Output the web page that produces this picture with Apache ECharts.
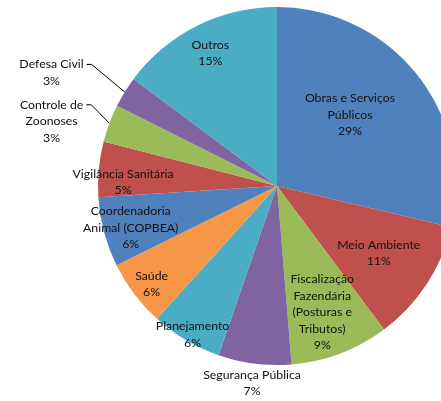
<!DOCTYPE html>
<html>
<head>
<meta charset="utf-8">
<script src="https://cdn.jsdelivr.net/npm/echarts@6/dist/echarts.min.js"></script>
<style>
html, body { margin: 0; padding: 0; background: #fff; }
#ch-main { width: 441px; height: 401px; }
</style>
</head>
<body>
<div id="ch-main"></div>
<script>
// slices, clockwise from 12 o'clock
var categories = [
    'Obras e Serviços\nPúblicos',
    'Meio Ambiente',
    'Fiscalização\nFazendária\n(Posturas e\nTributos)',
    'Segurança Pública',
    'Planejamento',
    'Saúde',
    'Coordenadoria\nAnimal (COPBEA)',
    'Vigilância Sanitária',
    'Controle de\nZoonoses',
    'Defesa Civil',
    'Outros'
];
var values = [28.7, 11.1, 8.9, 6.6, 6.4, 6.0, 6.3, 5.0, 3.4, 2.8, 14.8];
var colors = ['#4F81BD', '#C0504D', '#9BBB59', '#8064A2', '#4BACC6', '#F79646',
    '#4F81BD', '#C0504D', '#9BBB59', '#8064A2', '#4BACC6'];

// where each label sits: [fraction of radius, angle nudge in degrees]
var labelPlace = [[0.57, -6], [0.68, 0], [0.75, 1], [1.11, 0], [0.955, -1], [0.89, -1],
    [0.85, -1], [0.86, -4], [1.31, -4.5], [1.41, -5], [0.83, 0]];
var leader = [false, false, false, false, false, false, false, false, true, true, false];

var cx = 277, cy = 186, R = 179, lineH = 16.5;

var starts = [], total = 0;
values.forEach(function (v) { starts.push(total); total += v; });

function polar(k, deg) {
    var a = deg * Math.PI / 180;
    return [cx + k * R * Math.sin(a), cy - k * R * Math.cos(a)];
}

var myChart = echarts.init(document.getElementById('ch-main'));

var data = categories.map(function (name, i) {
    var item = {name: name, value: values[i], itemStyle: {color: colors[i]}};
    if (leader[i]) {
        item.label = {position: 'outside'};
        item.labelLine = {show: true, lineStyle: {color: '#000', width: 1}};
    } else if (labelPlace[i][0] > 1) {
        item.label = {position: 'outside'};
        item.labelLine = {show: false};
    }
    return item;
});

var option = {
    animation: false,
    series: [{
        type: 'pie',
        center: [cx, cy],
        radius: R,
        startAngle: 90,
        clockwise: true,
        avoidLabelOverlap: false,
        label: {
            show: true,
            position: 'inside',
            fontFamily: 'Lato',
            fontSize: 12.3,
            lineHeight: lineH,
            color: '#111',
            align: 'center',
            formatter: function (p) {
                return p.name + '\n' + Math.round(p.percent) + '%';
            }
        },
        labelLine: {show: false},
        labelLayout: function (p) {
            var i = p.dataIndex;
            var mid = (starts[i] + values[i] / 2) / total * 360;
            var pt = polar(labelPlace[i][0], mid + labelPlace[i][1]);
            var out = {x: pt[0], y: pt[1], align: 'center', verticalAlign: 'middle'};
            if (leader[i]) {
                var w = p.labelRect.width, h = p.labelRect.height;
                var ly = pt[1] - h / 2 + lineH / 2;
                var x0 = pt[0] + w / 2 + 3;
                out.labelLinePoints = [[x0, ly], [x0 + 5, ly], polar(1, mid)];
            }
            return out;
        },
        data: data
    }]
};

myChart.setOption(option);
</script>
</body>
</html>
